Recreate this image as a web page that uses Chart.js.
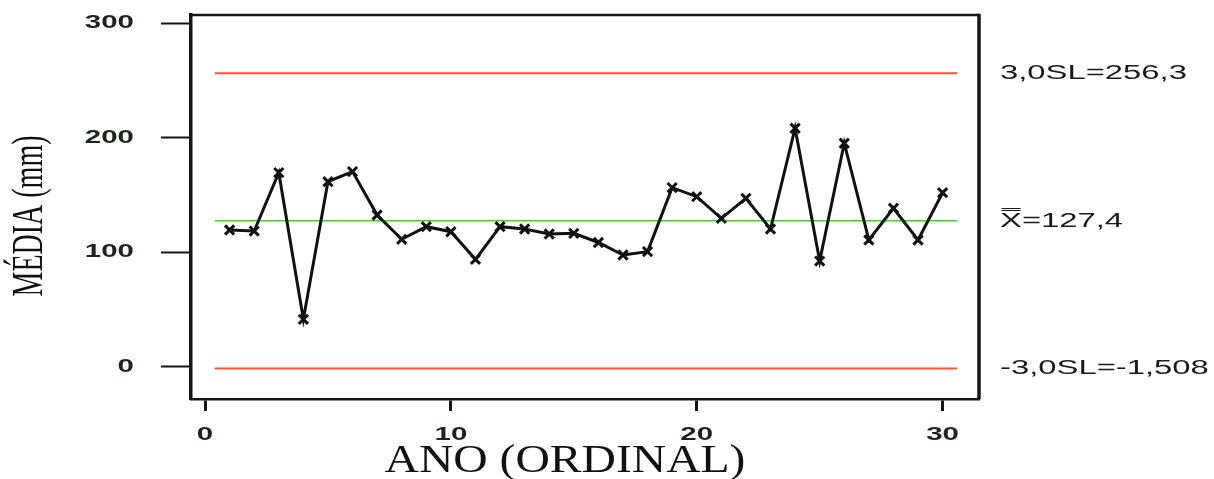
<!DOCTYPE html>
<html>
<head>
<meta charset="utf-8">
<script src="https://cdn.jsdelivr.net/npm/chart.js@4/dist/chart.umd.min.js"></script>
<style>
  body { margin: 0; background: #fff; }
  #wrap { width: 1214px; height: 479px; position: relative; }
</style>
</head>
<body>
<div id="wrap"><canvas id="chart"></canvas></div>
<script>
// yearly means (mm), year ordinal 1..30
const years = [1, 2, 3, 4, 5, 6, 7, 8, 9, 10, 11, 12, 13, 14, 15,
               16, 17, 18, 19, 20, 21, 22, 23, 24, 25, 26, 27, 28, 29, 30];
const means = [119.4, 118.5, 169.5, 41.4, 161.6, 170.4, 132.5, 111.3, 122.3, 117.9,
               93.8, 122.3, 120.3, 115.9, 116.5, 108.5, 97.6, 100.5, 156.4, 148.5,
               129.6, 147.1, 120.3, 208.3, 92.3, 195.2, 110.7, 138.4, 110.7, 152.0];

// control limits
const ucl = 256.3;
const center = 127.4;
const lcl = -1.508;
const limitValues = [ucl, center, lcl];
const limitLabels = ['3,0SL=256,3', 'X\u033F=127,4', '-3,0SL=-1,508'];
const limitSpan = [0.4, 30.6];

const yTicks = [0, 100, 200, 300];
const xTicks = [0, 10, 20, 30];

function limitLine(v, color, width) {
  return {
    data: limitSpan.map(x => ({ x: x, y: v })),
    borderColor: color,
    borderWidth: width,
    pointRadius: 0,
    fill: false
  };
}

// the original figure has stretched lettering: wrap a scale's text drawing
// so every string is scaled around its own anchor point
function stretch(scale, name, sx, sy, dx, dy) {
  const key = '_orig_' + name;
  if (scale[key]) return;
  scale[key] = scale[name];
  scale[name] = function (...args) {
    const c = this.ctx;
    const fill = CanvasRenderingContext2D.prototype.fillText;
    c.save();
    c.translate(dx, dy);
    c.fillText = function (t, x, y) {
      this.save();
      this.translate(x, y);
      this.scale(sx, sy);
      fill.call(this, t, 0, 0);
      this.restore();
    };
    scale[key].apply(this, args);
    delete c.fillText;
    c.restore();
  };
}

const frame = {
  id: 'frame',
  afterLayout(chart) {
    const s = chart.scales;
    stretch(s.x, 'drawLabels', 1.55, 1, 0, 0);
    stretch(s.x, 'drawTitle', 1.19, 1, -20, 2);
    stretch(s.y, 'drawLabels', 1.55, 1, 0, 0);
    stretch(s.y, 'drawTitle', 1, 1.55, 1, 9);
    stretch(s.y2, 'drawLabels', 1.6, 1, 0, 0);
  },
  // top and right sides of the frame
  afterDraw(chart) {
    const { ctx, chartArea: a } = chart;
    ctx.save();
    ctx.strokeStyle = '#151515';
    ctx.lineWidth = 2.5;
    ctx.beginPath();
    ctx.moveTo(a.left, a.top);
    ctx.lineTo(a.right, a.top);
    ctx.stroke();
    ctx.lineWidth = 3.5;
    ctx.beginPath();
    ctx.moveTo(a.right, a.top - 1.2);
    ctx.lineTo(a.right, a.bottom);
    ctx.stroke();
    ctx.restore();
  }
};

function noPad(s) {
  s.paddingTop = 0;
  s.paddingBottom = 0;
  s.paddingLeft = 0;
  s.paddingRight = 0;
}

new Chart(document.getElementById('chart'), {
  type: 'line',
  data: {
    datasets: [
      {
        data: years.map((x, i) => ({ x: x, y: means[i] })),
        borderColor: '#111',
        borderWidth: 3,
        pointStyle: 'crossRot',
        pointRadius: 6.5,
        pointBorderWidth: 3,
        pointBorderColor: '#111',
        tension: 0
      },
      limitLine(ucl, '#ff5030', 2),
      limitLine(center, '#44d418', 1.5),
      limitLine(lcl, '#ff5030', 2)
    ]
  },
  options: {
    responsive: true,
    maintainAspectRatio: false,
    animation: false,
    layout: { padding: { top: 15, left: 0, right: 0, bottom: 0 } },
    plugins: {
      legend: { display: false },
      tooltip: { enabled: false }
    },
    scales: {
      x: {
        type: 'linear',
        min: -0.57,
        max: 31.48,
        afterBuildTicks: s => { s.ticks = xTicks.map(v => ({ value: v })); },
        afterFit: s => { s.height = 80; noPad(s); },
        ticks: {
          font: { family: 'Liberation Sans', size: 19, weight: 'bold' },
          color: '#1a261a',
          padding: 12,
          maxRotation: 0
        },
        grid: { drawOnChartArea: false, tickLength: 12, tickColor: '#151515', tickWidth: 3 },
        border: { color: '#151515', width: 2.5 },
        title: {
          display: true,
          text: 'ANO (ORDINAL)',
          font: { family: 'Liberation Serif', size: 40, lineHeight: 1 },
          color: '#111',
          padding: { top: 0, bottom: 0 }
        }
      },
      y: {
        position: 'left',
        min: -28.2,
        max: 307.2,
        afterBuildTicks: s => { s.ticks = yTicks.map(v => ({ value: v })); },
        afterFit: s => { s.width = 191; noPad(s); },
        ticks: {
          font: { family: 'Liberation Sans', size: 19, weight: 'bold' },
          color: '#1a261a',
          padding: 27
        },
        grid: { drawOnChartArea: false, tickLength: 30, tickColor: '#151515', tickWidth: 2 },
        border: { color: '#151515', width: 3.5 },
        title: {
          display: true,
          text: 'MÉDIA (mm)',
          font: { family: 'Liberation Serif', size: 28, lineHeight: 1 },
          color: '#111',
          padding: { top: 16, bottom: 0 }
        }
      },
      y2: {
        position: 'right',
        min: -28.2,
        max: 307.2,
        afterBuildTicks: s => { s.ticks = limitValues.map(v => ({ value: v })); },
        afterFit: s => { s.width = 235; noPad(s); },
        ticks: {
          font: { family: 'Liberation Sans', size: 20.5 },
          color: '#1a1a1a',
          padding: 21,
          callback: (v, i) => limitLabels[i]
        },
        grid: { display: false, drawTicks: false },
        border: { display: false }
      }
    }
  },
  plugins: [frame]
});
</script>
</body>
</html>
